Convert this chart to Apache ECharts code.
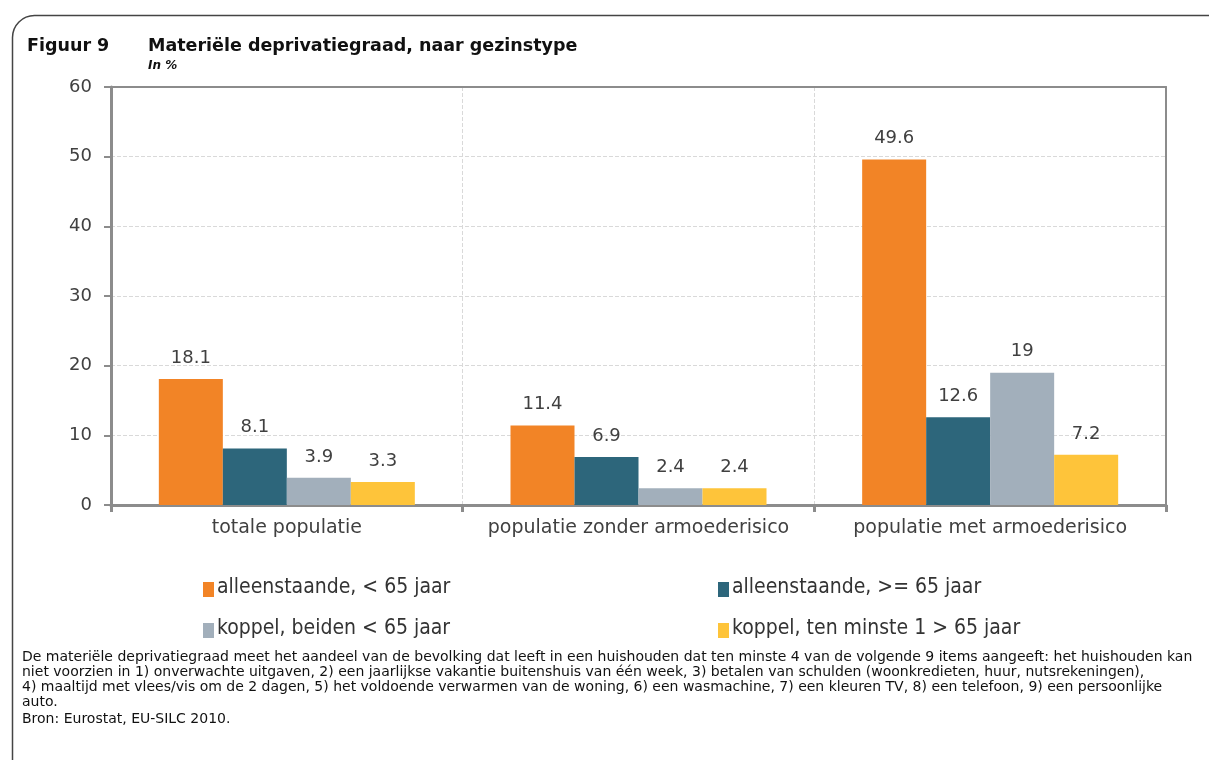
<!DOCTYPE html>
<html>
<head>
<meta charset="utf-8">
<script src="https://cdn.jsdelivr.net/npm/echarts@6/dist/echarts.min.js"></script>
<style>
  html, body { margin: 0; padding: 0; background: #fff; }
  #chart { width: 1209px; height: 760px; }
</style>
</head>
<body>
<div id="chart"></div>
<script>
const categories = ['totale populatie', 'populatie zonder armoederisico', 'populatie met armoederisico'];
const seriesNames = ['alleenstaande, < 65 jaar', 'alleenstaande, >= 65 jaar', 'koppel, beiden < 65 jaar', 'koppel, ten minste 1 > 65 jaar'];
const alleenJong = [18.1, 11.4, 49.6];
const alleenOud = [8.1, 6.9, 12.6];
const koppelJong = [3.9, 2.4, 19];
const koppelOud = [3.3, 2.4, 7.2];
const yTicks = { min: 0, max: 60, interval: 10 };

const colors = ['#F28426', '#2D667B', '#A2AFBB', '#FEC43A'];
const values = [alleenJong, alleenOud, koppelJong, koppelOud];

const noteLines = [
  'De materiële deprivatiegraad meet het aandeel van de bevolking dat leeft in een huishouden dat ten minste 4 van de volgende 9 items aangeeft: het huishouden kan',
  'niet voorzien in 1) onverwachte uitgaven, 2) een jaarlijkse vakantie buitenshuis van één week, 3) betalen van schulden (woonkredieten, huur, nutsrekeningen),',
  '4) maaltijd met vlees/vis om de 2 dagen, 5) het voldoende verwarmen van de woning, 6) een wasmachine, 7) een kleuren TV, 8) een telefoon, 9) een persoonlijke',
  'auto.',
  'Bron: Eurostat, EU-SILC 2010.'
];
const noteTops = [650, 665, 680, 695, 712];

const chart = echarts.init(document.getElementById('chart'));

const axisGrey = '#8c8c8c';

// legenda: twee kolommen, twee rijen
const legendPos = [[203, 582], [718, 582], [203, 623], [718, 623]];
const legendGraphics = [];
seriesNames.forEach((name, i) => {
  legendGraphics.push({
    type: 'rect', left: legendPos[i][0], top: legendPos[i][1],
    shape: { width: 11, height: 15 }, style: { fill: colors[i] }
  });
  legendGraphics.push({
    type: 'text', left: legendPos[i][0] + 14, top: legendPos[i][1] - 5,
    style: { text: name, font: '21px "DejaVu Sans Condensed", sans-serif', fill: '#333' }
  });
});

chart.setOption({
  animation: false,
  textStyle: { fontFamily: 'DejaVu Sans' },
  grid: { left: 111, right: 43, top: 87, bottom: 255 },
  xAxis: [
    {
      type: 'category',
      data: categories,
      axisLine: { lineStyle: { color: axisGrey, width: 3 } },
      axisTick: { show: true, interval: 0, length: 7, lineStyle: { color: axisGrey, width: 3 } },
      axisLabel: { color: '#404040', fontSize: 19, margin: 14, interval: 0 },
      splitLine: { show: true, interval: 0, lineStyle: { color: '#d9d9d9', type: 'dashed', width: 1 } }
    },
    {
      // bovenrand van het plotvlak
      type: 'category', position: 'top', data: categories,
      axisLine: { show: true, onZero: false, lineStyle: { color: axisGrey, width: 2 } },
      axisTick: { show: false }, axisLabel: { show: false }, splitLine: { show: false }
    }
  ],
  yAxis: [
    {
      type: 'value',
      min: yTicks.min, max: yTicks.max, interval: yTicks.interval,
      axisLine: { show: true, lineStyle: { color: axisGrey, width: 3 } },
      axisTick: { show: true, length: 7, lineStyle: { color: axisGrey, width: 2 } },
      axisLabel: { color: '#404040', fontSize: 18, margin: 19 },
      splitLine: { show: true, lineStyle: { color: '#d9d9d9', type: 'dashed', width: 1 } }
    },
    {
      // rechterrand van het plotvlak
      type: 'value', position: 'right',
      min: yTicks.min, max: yTicks.max, interval: yTicks.interval,
      axisLine: { show: true, onZero: false, lineStyle: { color: axisGrey, width: 2 } },
      axisTick: { show: false }, axisLabel: { show: false }, splitLine: { show: false }
    }
  ],
  series: seriesNames.map((name, i) => ({
    name,
    type: 'bar',
    data: values[i],
    barWidth: 64,
    barGap: '0%',
    itemStyle: { color: colors[i] },
    label: {
      show: true, position: 'top', distance: 12,
      color: '#404040', fontSize: 18,
      formatter: (p) => String(p.value)
    }
  })),
  graphic: [
    {
      type: 'rect', left: 10, top: 13,
      shape: { width: 1230, height: 770, r: 22 },
      style: { fill: 'none', stroke: '#444', lineWidth: 1.5 },
      z: -1
    },
    {
      type: 'text', left: 27, top: 37,
      style: { text: 'Figuur 9', font: 'bold 17.5px "DejaVu Sans", sans-serif', fill: '#111' }
    },
    {
      type: 'text', left: 148, top: 37,
      style: { text: 'Materiële deprivatiegraad, naar gezinstype', font: 'bold 17.5px "DejaVu Sans", sans-serif', fill: '#111' }
    },
    {
      type: 'text', left: 148, top: 60,
      style: { text: 'In %', font: 'italic bold 12px "DejaVu Sans", sans-serif', fill: '#111' }
    },
    ...legendGraphics,
    ...noteLines.map((line, i) => ({
      type: 'text', left: 22, top: noteTops[i],
      style: { text: line, font: '14px "DejaVu Sans", sans-serif', fill: '#111' }
    }))
  ]
});
</script>
</body>
</html>
